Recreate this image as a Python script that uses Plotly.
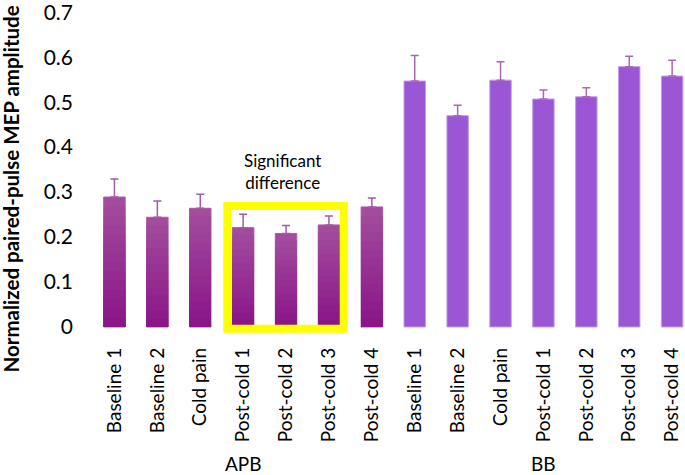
import plotly.graph_objects as go

categories = ["Baseline 1", "Baseline 2", "Cold pain", "Post-cold 1", "Post-cold 2", "Post-cold 3", "Post-cold 4"]
groups = ["APB", "BB"]
apb_values = [0.289, 0.244, 0.264, 0.221, 0.208, 0.227, 0.267]
apb_errors = [0.040, 0.036, 0.031, 0.030, 0.018, 0.020, 0.020]
bb_values = [0.547, 0.470, 0.549, 0.507, 0.512, 0.579, 0.558]
bb_errors = [0.057, 0.023, 0.041, 0.020, 0.020, 0.023, 0.035]
y_ticks = [0, 0.1, 0.2, 0.3, 0.4, 0.5, 0.6, 0.7]

FONT = "Lato"
n = len(categories)
x_apb = list(range(n))
x_bb = list(range(n, 2 * n))
tick_vals = x_apb + x_bb
tick_text = categories + categories


def mix(c1, c2, t):
    a = [int(c1[i:i + 2], 16) for i in (1, 3, 5)]
    b = [int(c2[i:i + 2], 16) for i in (1, 3, 5)]
    return "rgb(%d,%d,%d)" % tuple(round(a[i] + (b[i] - a[i]) * t) for i in range(3))


fig = go.Figure()

# APB bars: vertical gradient (lighter at top, darker at bottom) via overlaid layers
K = 14
APB_TOP, APB_BOTTOM = "#a34c9e", "#8a1688"
for k in range(K):
    frac = 1 - k / K
    fig.add_trace(go.Bar(
        x=x_apb, y=[v * frac for v in apb_values], width=0.5,
        marker=dict(color=mix(APB_TOP, APB_BOTTOM, k / (K - 1)),
                    line=dict(color="#a85aa6", width=1 if k == 0 else 0)),
        error_y=(dict(type="data", array=apb_errors, symmetric=False, arrayminus=[0] * n,
                      color="#a45aa6", thickness=1.5, width=4) if k == 0 else None),
        showlegend=False, hoverinfo="skip" if k else None,
    ))

fig.add_trace(go.Bar(
    x=x_bb, y=bb_values, width=0.5,
    marker=dict(color="#9a56d5", line=dict(color="#c39ee6", width=1)),
    error_y=dict(type="data", array=bb_errors, symmetric=False, arrayminus=[0] * n,
                 color="#a86aae", thickness=1.5, width=4),
    showlegend=False,
))

# yellow highlight box around Post-cold 1..3 of APB
fig.add_shape(type="rect", xref="x", yref="y",
              x0=2.63, x1=5.345, y0=-0.004, y1=0.269,
              line=dict(color="#ffff00", width=8), fillcolor="rgba(0,0,0,0)", layer="above")

fig.add_annotation(x=3.92, y=0.346, xref="x", yref="y", text="Significant<br>difference",
                   showarrow=False, font=dict(family=FONT, size=17, color="black"))

for gi, g in enumerate(groups):
    fig.add_annotation(x=gi * n + (n - 1) / 2, y=0, xref="x", yref="paper", text=g,
                       showarrow=False, yanchor="middle", yshift=-127,
                       font=dict(family=FONT, size=19, color="black"))

fig.add_annotation(x=0, y=0.4537, xref="paper", yref="paper",
                   text="<b>Normalized paired-pulse MEP amplitude</b>",
                   textangle=-90, showarrow=False, xanchor="center", yanchor="middle",
                   xshift=-81.5, font=dict(family=FONT, size=20.5, color="black"))

fig.update_layout(
    width=685, height=475,
    margin=dict(l=93, r=0, t=12, b=139),
    plot_bgcolor="white", paper_bgcolor="white",
    barmode="overlay",
    font=dict(family=FONT, color="black"),
    xaxis=dict(tickmode="array", tickvals=tick_vals, ticktext=tick_text,
               tickangle=-90, range=[-0.5, 13.3], showgrid=False, zeroline=False,
               showline=False, ticks="", tickfont=dict(family=FONT, size=19, color="black"),
               ticklabelstandoff=7, automargin=False, ticklabeloverflow="allow"),
    yaxis=dict(range=[-0.02, 0.7005], tickvals=y_ticks, ticktext=[f"{v:g}" for v in y_ticks],
               showgrid=False, zeroline=False, showline=False, ticks="",
               tickfont=dict(family=FONT, size=21, color="black"), ticklabelstandoff=19,
               automargin=False, ticklabeloverflow="allow"),
)

fig.write_html("out.html", config={"displayModeBar": False},
               post_script="document.body.style.margin='0';document.body.style.padding='0';")
